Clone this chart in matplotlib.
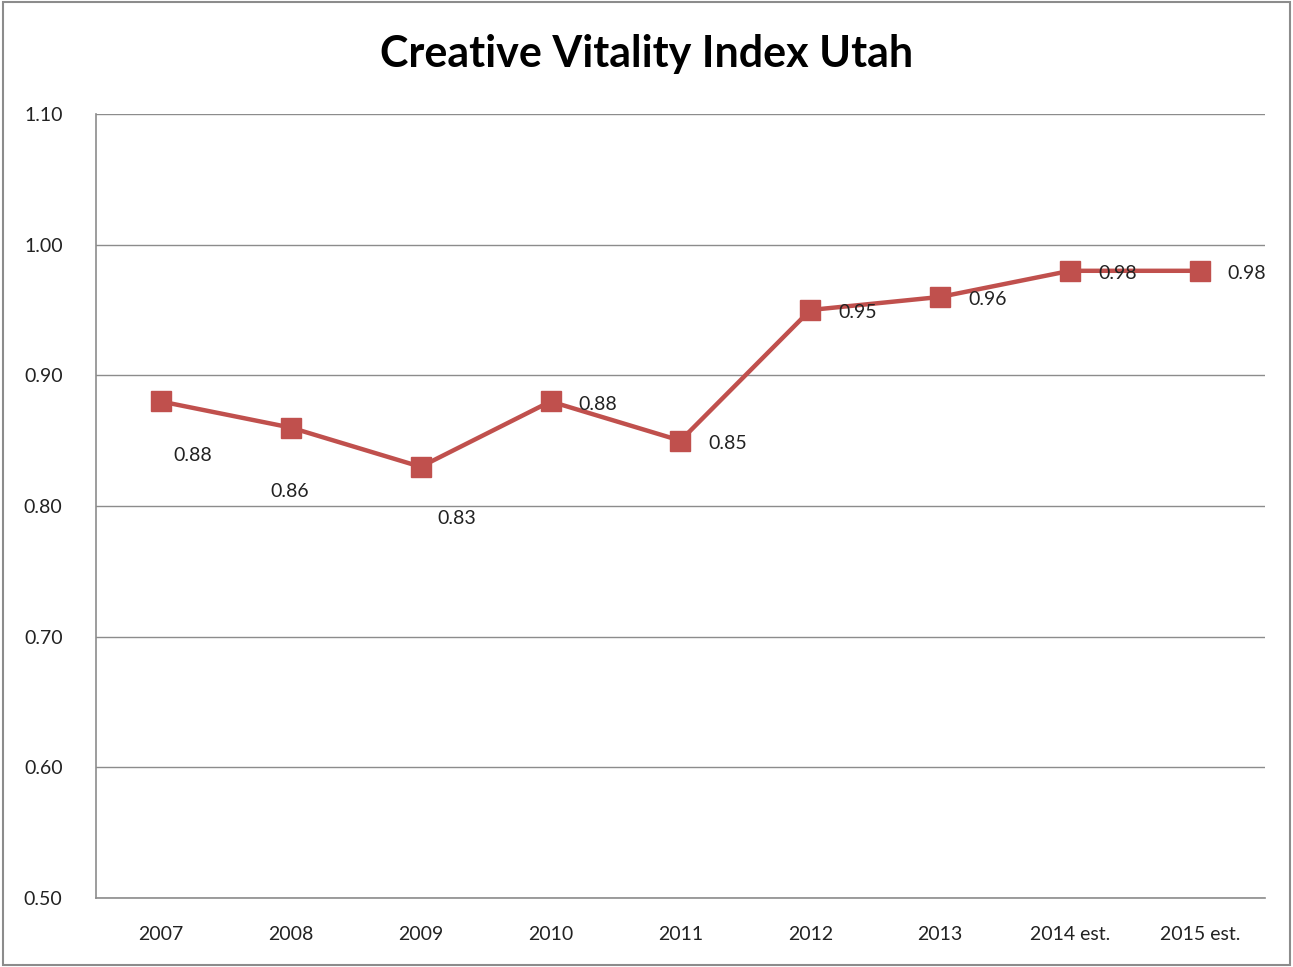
import matplotlib
matplotlib.use("Agg")
from matplotlib import pyplot as plt
from matplotlib.patches import Rectangle

years = ['2007', '2008', '2009', '2010', '2011', '2012', '2013', '2014 est.', '2015 est.']
cvi = [0.88, 0.86, 0.83, 0.88, 0.85, 0.95, 0.96, 0.98, 0.98]
value_labels = ['0.88', '0.86', '0.83', '0.88', '0.85', '0.95', '0.96', '0.98', '0.98']

# label offsets (points) relative to each marker
label_offsets = [(9, -39), (-15, -46), (12, -37), (20, -2), (20, -2), (20, -2), (20, -2), (20, -2), (20, -2)]

plt.rcParams['font.family'] = ['Lato', 'DejaVu Sans']
red = '#C0504D'
grey = '#8c8c8c'

fig = plt.figure(figsize=(12.93, 9.67), dpi=100)
ax = fig.add_axes([0.0742, 0.0714, 0.9041, 0.8107])

x = list(range(len(years)))
ax.plot(x, cvi, color=red, linewidth=3.2, marker='s', markersize=14, zorder=3)

for xi, v, lab, off in zip(x, cvi, value_labels, label_offsets):
    ax.annotate(lab, (xi, v), xytext=off, textcoords='offset points',
                ha='left', va='center', fontsize=14, color='#222222')

ax.set_xlim(-0.5, len(years) - 0.5)
ax.set_ylim(0.5, 1.1)
ax.set_yticks([0.5, 0.6, 0.7, 0.8, 0.9, 1.0, 1.1])
ax.set_yticklabels(['%.2f' % t for t in ax.get_yticks()])
ax.set_xticks(x)
ax.set_xticklabels(years)
ax.tick_params(axis='both', length=0, labelsize=14, colors='#222222')
ax.tick_params(axis='y', pad=24)
ax.tick_params(axis='x', pad=20)
ax.grid(axis='y', color=grey, linewidth=1)
ax.set_axisbelow(True)
for s in ['top', 'right']:
    ax.spines[s].set_visible(False)
for s in ['left', 'bottom']:
    ax.spines[s].set_color(grey)
    ax.spines[s].set_linewidth(1.2)

fig.suptitle('Creative Vitality Index Utah', fontsize=31, fontweight='bold', y=0.965)

fig.patches.append(Rectangle((0.002, 0.002), 0.996, 0.996, transform=fig.transFigure,
                             fill=False, edgecolor=grey, linewidth=1.5))

plt.savefig('out.png', dpi=100)
